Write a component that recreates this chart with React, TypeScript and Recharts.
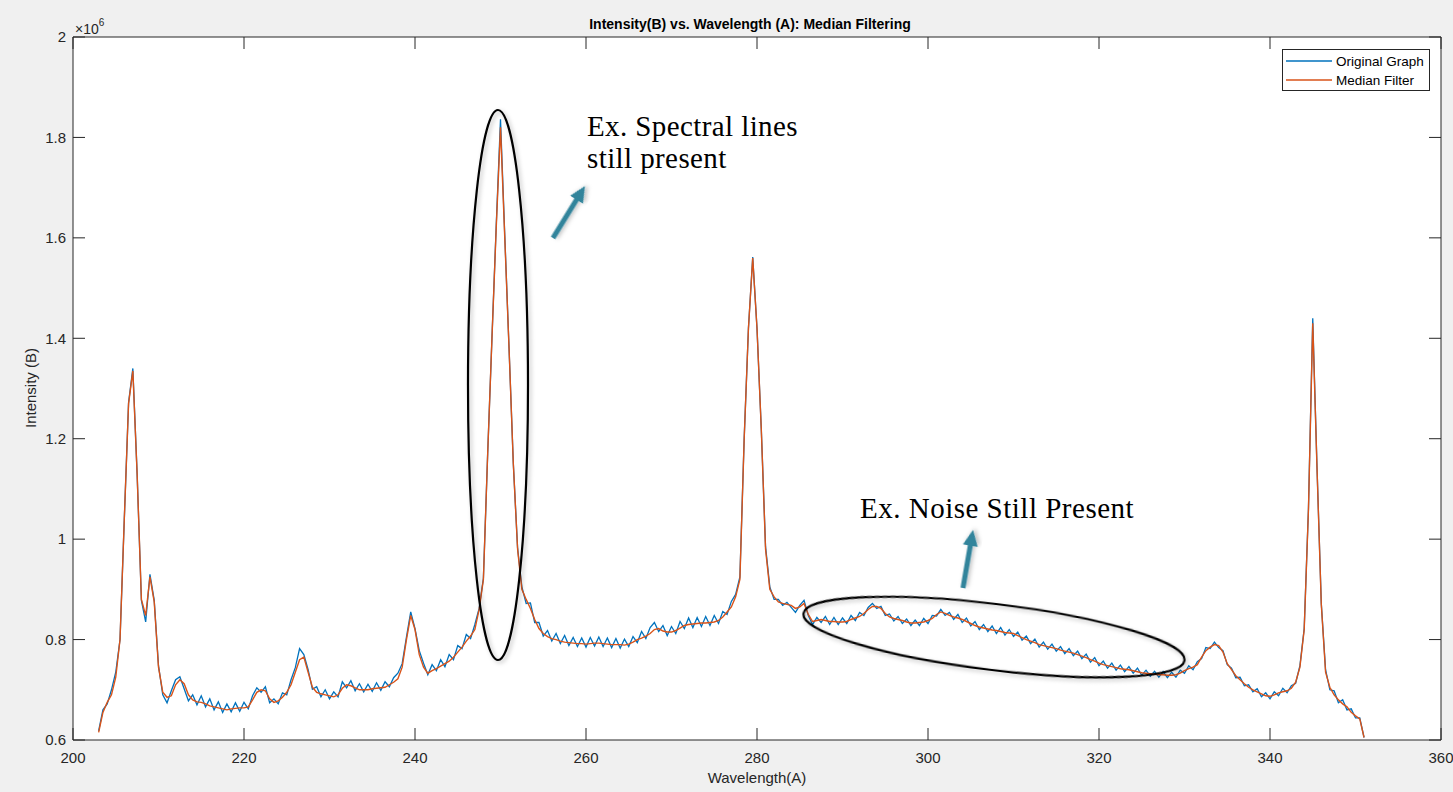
import React from 'react';
import { LineChart, Line, XAxis, YAxis, CartesianGrid } from 'recharts';

// Wavelength (A), sampled every 0.5
const wavelengths = [
  203, 203.5, 204, 204.5, 205, 205.5, 206, 206.5, 207, 207.5,
  208, 208.5, 209, 209.5, 210, 210.5, 211, 211.5, 212, 212.5,
  213, 213.5, 214, 214.5, 215, 215.5, 216, 216.5, 217, 217.5,
  218, 218.5, 219, 219.5, 220, 220.5, 221, 221.5, 222, 222.5,
  223, 223.5, 224, 224.5, 225, 225.5, 226, 226.5, 227, 227.5,
  228, 228.5, 229, 229.5, 230, 230.5, 231, 231.5, 232, 232.5,
  233, 233.5, 234, 234.5, 235, 235.5, 236, 236.5, 237, 237.5,
  238, 238.5, 239, 239.5, 240, 240.5, 241, 241.5, 242, 242.5,
  243, 243.5, 244, 244.5, 245, 245.5, 246, 246.5, 247, 247.5,
  248, 248.5, 249, 249.5, 250, 250.5, 251, 251.5, 252, 252.5,
  253, 253.5, 254, 254.5, 255, 255.5, 256, 256.5, 257, 257.5,
  258, 258.5, 259, 259.5, 260, 260.5, 261, 261.5, 262, 262.5,
  263, 263.5, 264, 264.5, 265, 265.5, 266, 266.5, 267, 267.5,
  268, 268.5, 269, 269.5, 270, 270.5, 271, 271.5, 272, 272.5,
  273, 273.5, 274, 274.5, 275, 275.5, 276, 276.5, 277, 277.5,
  278, 278.5, 279, 279.5, 280, 280.5, 281, 281.5, 282, 282.5,
  283, 283.5, 284, 284.5, 285, 285.5, 286, 286.5, 287, 287.5,
  288, 288.5, 289, 289.5, 290, 290.5, 291, 291.5, 292, 292.5,
  293, 293.5, 294, 294.5, 295, 295.5, 296, 296.5, 297, 297.5,
  298, 298.5, 299, 299.5, 300, 300.5, 301, 301.5, 302, 302.5,
  303, 303.5, 304, 304.5, 305, 305.5, 306, 306.5, 307, 307.5,
  308, 308.5, 309, 309.5, 310, 310.5, 311, 311.5, 312, 312.5,
  313, 313.5, 314, 314.5, 315, 315.5, 316, 316.5, 317, 317.5,
  318, 318.5, 319, 319.5, 320, 320.5, 321, 321.5, 322, 322.5,
  323, 323.5, 324, 324.5, 325, 325.5, 326, 326.5, 327, 327.5,
  328, 328.5, 329, 329.5, 330, 330.5, 331, 331.5, 332, 332.5,
  333, 333.5, 334, 334.5, 335, 335.5, 336, 336.5, 337, 337.5,
  338, 338.5, 339, 339.5, 340, 340.5, 341, 341.5, 342, 342.5,
  343, 343.5, 344, 344.5, 345, 345.5, 346, 346.5, 347, 347.5,
  348, 348.5, 349, 349.5, 350, 350.5, 351,
];

// Intensity (B), in units of 10^6
const originalGraph = [
  0.618, 0.660, 0.672, 0.700, 0.735, 0.800, 1.040, 1.272, 1.340, 1.130,
  0.878, 0.835, 0.930, 0.878, 0.748, 0.690, 0.674, 0.698, 0.720, 0.726,
  0.702, 0.678, 0.690, 0.670, 0.688, 0.666, 0.682, 0.660, 0.676, 0.655,
  0.672, 0.656, 0.674, 0.657, 0.675, 0.662, 0.688, 0.704, 0.695, 0.706,
  0.674, 0.682, 0.672, 0.694, 0.690, 0.720, 0.744, 0.782, 0.770, 0.740,
  0.701, 0.706, 0.686, 0.700, 0.682, 0.696, 0.686, 0.716, 0.704, 0.718,
  0.698, 0.712, 0.696, 0.711, 0.697, 0.714, 0.699, 0.716, 0.706, 0.724,
  0.733, 0.752, 0.805, 0.855, 0.822, 0.778, 0.753, 0.730, 0.750, 0.738,
  0.760, 0.746, 0.770, 0.760, 0.788, 0.782, 0.810, 0.802, 0.830, 0.862,
  0.922, 1.170, 1.400, 1.625, 1.836, 1.605, 1.380, 1.150, 0.982, 0.905,
  0.872, 0.873, 0.834, 0.834, 0.807, 0.818, 0.797, 0.812, 0.792, 0.808,
  0.788, 0.804, 0.786, 0.803, 0.785, 0.804, 0.787, 0.805, 0.786, 0.803,
  0.784, 0.802, 0.783, 0.801, 0.786, 0.806, 0.794, 0.816, 0.802, 0.824,
  0.834, 0.816, 0.828, 0.808, 0.826, 0.812, 0.836, 0.822, 0.843, 0.824,
  0.844, 0.826, 0.846, 0.828, 0.848, 0.832, 0.856, 0.850, 0.876, 0.890,
  0.925, 1.200, 1.420, 1.562, 1.420, 1.220, 0.985, 0.905, 0.880, 0.880,
  0.868, 0.874, 0.864, 0.854, 0.868, 0.878, 0.848, 0.830, 0.844, 0.834,
  0.846, 0.830, 0.844, 0.830, 0.843, 0.832, 0.848, 0.838, 0.854, 0.848,
  0.864, 0.872, 0.862, 0.866, 0.848, 0.851, 0.837, 0.846, 0.832, 0.841,
  0.828, 0.839, 0.828, 0.842, 0.832, 0.848, 0.847, 0.860, 0.848, 0.854,
  0.840, 0.850, 0.834, 0.843, 0.827, 0.836, 0.820, 0.830, 0.816, 0.827,
  0.812, 0.824, 0.809, 0.820, 0.806, 0.815, 0.799, 0.807, 0.792, 0.801,
  0.785, 0.795, 0.781, 0.791, 0.777, 0.786, 0.772, 0.782, 0.768, 0.777,
  0.762, 0.771, 0.755, 0.764, 0.748, 0.757, 0.743, 0.753, 0.739, 0.749,
  0.736, 0.746, 0.733, 0.743, 0.729, 0.739, 0.727, 0.737, 0.725, 0.736,
  0.724, 0.735, 0.725, 0.739, 0.733, 0.748, 0.740, 0.756, 0.762, 0.784,
  0.782, 0.795, 0.784, 0.778, 0.750, 0.743, 0.724, 0.725, 0.708, 0.710,
  0.696, 0.702, 0.686, 0.694, 0.682, 0.696, 0.688, 0.703, 0.694, 0.708,
  0.713, 0.748, 0.822, 1.062, 1.440, 1.142, 0.872, 0.740, 0.700, 0.698,
  0.674, 0.680, 0.660, 0.662, 0.644, 0.644, 0.605,
];

const medianFilter = [
  0.615, 0.655, 0.675, 0.690, 0.725, 0.800, 1.040, 1.270, 1.335, 1.130,
  0.880, 0.848, 0.925, 0.875, 0.745, 0.695, 0.685, 0.688, 0.710, 0.720,
  0.712, 0.690, 0.680, 0.676, 0.675, 0.672, 0.668, 0.666, 0.664, 0.662,
  0.660, 0.662, 0.663, 0.664, 0.664, 0.666, 0.680, 0.695, 0.700, 0.698,
  0.682, 0.675, 0.678, 0.685, 0.695, 0.710, 0.735, 0.760, 0.765, 0.735,
  0.705, 0.695, 0.692, 0.690, 0.688, 0.686, 0.690, 0.703, 0.710, 0.708,
  0.704, 0.700, 0.700, 0.700, 0.702, 0.703, 0.704, 0.705, 0.710, 0.715,
  0.722, 0.745, 0.800, 0.848, 0.820, 0.770, 0.745, 0.733, 0.738, 0.742,
  0.747, 0.752, 0.757, 0.765, 0.775, 0.785, 0.797, 0.807, 0.820, 0.860,
  0.920, 1.170, 1.400, 1.620, 1.820, 1.600, 1.380, 1.150, 0.980, 0.900,
  0.880, 0.862, 0.840, 0.822, 0.812, 0.806, 0.802, 0.800, 0.797, 0.795,
  0.794, 0.793, 0.792, 0.792, 0.791, 0.792, 0.793, 0.793, 0.792, 0.791,
  0.790, 0.790, 0.790, 0.789, 0.791, 0.795, 0.800, 0.803, 0.807, 0.812,
  0.820, 0.822, 0.817, 0.815, 0.815, 0.818, 0.823, 0.828, 0.830, 0.831,
  0.832, 0.833, 0.833, 0.834, 0.835, 0.838, 0.845, 0.855, 0.865, 0.885,
  0.920, 1.200, 1.420, 1.560, 1.420, 1.220, 0.980, 0.900, 0.885, 0.875,
  0.872, 0.870, 0.868, 0.862, 0.865, 0.872, 0.850, 0.836, 0.838, 0.840,
  0.838, 0.836, 0.836, 0.835, 0.835, 0.836, 0.840, 0.843, 0.846, 0.852,
  0.860, 0.866, 0.866, 0.862, 0.852, 0.845, 0.842, 0.840, 0.838, 0.835,
  0.833, 0.833, 0.834, 0.835, 0.838, 0.842, 0.850, 0.855, 0.852, 0.848,
  0.845, 0.843, 0.840, 0.836, 0.832, 0.828, 0.825, 0.823, 0.821, 0.819,
  0.818, 0.816, 0.814, 0.813, 0.812, 0.808, 0.804, 0.800, 0.797, 0.794,
  0.790, 0.788, 0.786, 0.784, 0.782, 0.779, 0.777, 0.775, 0.773, 0.770,
  0.767, 0.764, 0.760, 0.757, 0.753, 0.750, 0.748, 0.746, 0.744, 0.742,
  0.741, 0.740, 0.738, 0.736, 0.734, 0.733, 0.732, 0.731, 0.730, 0.730,
  0.729, 0.729, 0.730, 0.733, 0.738, 0.742, 0.745, 0.750, 0.765, 0.778,
  0.785, 0.790, 0.788, 0.775, 0.752, 0.740, 0.728, 0.720, 0.712, 0.705,
  0.700, 0.696, 0.692, 0.688, 0.687, 0.690, 0.694, 0.696, 0.698, 0.703,
  0.715, 0.745, 0.820, 1.060, 1.430, 1.140, 0.870, 0.735, 0.705, 0.690,
  0.680, 0.672, 0.666, 0.655, 0.648, 0.642, 0.605,
];

const xTicks = [200, 220, 240, 260, 280, 300, 320, 340, 360];
const yTicks = [0.6, 0.8, 1, 1.2, 1.4, 1.6, 1.8, 2];
const seriesNames = ['Original Graph', 'Median Filter'];
const seriesColors = ['#0072BD', '#D95319'];
const chartTitle = 'Intensity(B) vs. Wavelength (A): Median Filtering';
const xLabel = 'Wavelength(A)';
const yLabel = 'Intensity (B)';
const noteSpectral = ['Ex. Spectral lines', 'still present'];
const noteNoise = 'Ex. Noise Still Present';

const data = wavelengths.map((w, i) => ({
  wavelength: w,
  original: originalGraph[i],
  median: medianFilter[i],
}));

const SANS = '"Liberation Sans", Arial, Helvetica, sans-serif';
const SERIF = '"Liberation Serif", "Times New Roman", serif';
const AX = '#262626';
const ARROW = '#31849b';

export default function App() {
  return (
    <div
      style={{
        position: 'fixed',
        left: 0,
        top: 0,
        width: 1453,
        height: 792,
        background: '#f0f0f0',
        overflow: 'hidden',
      }}
    >
      <LineChart
        width={1453}
        height={792}
        data={data}
        margin={{ top: 36, right: 11, bottom: 22, left: 13 }}
      >
        <CartesianGrid xAxisId="b" yAxisId="l" fill="#ffffff" horizontal={false} vertical={false} />
        <XAxis
          xAxisId="b"
          type="number"
          dataKey="wavelength"
          domain={[200, 360]}
          ticks={xTicks}
          interval={0}
          allowDataOverflow
          orientation="bottom"
          height={30}
          tickSize={-12}
          tickMargin={24}
          stroke={AX}
          tick={{ fill: AX, fontSize: 15, fontFamily: SANS }}
        />
        <XAxis
          xAxisId="t"
          type="number"
          dataKey="wavelength"
          domain={[200, 360]}
          ticks={xTicks}
          interval={0}
          allowDataOverflow
          orientation="top"
          height={1}
          tickSize={-12}
          tickFormatter={() => ''}
          stroke={AX}
        />
        <YAxis
          yAxisId="l"
          type="number"
          domain={[0.6, 2]}
          ticks={yTicks}
          interval={0}
          allowDataOverflow
          orientation="left"
          width={60}
          tickSize={-12}
          tickMargin={19}
          stroke={AX}
          tick={{ fill: AX, fontSize: 15, fontFamily: SANS }}
        />
        <YAxis
          yAxisId="r"
          type="number"
          domain={[0.6, 2]}
          ticks={yTicks}
          interval={0}
          allowDataOverflow
          orientation="right"
          width={1}
          tickSize={-12}
          tickFormatter={() => ''}
          stroke={AX}
        />
        <Line
          xAxisId="b"
          yAxisId="l"
          type="linear"
          dataKey="original"
          name={seriesNames[0]}
          stroke={seriesColors[0]}
          strokeWidth={1.3}
          dot={false}
          isAnimationActive={false}
        />
        <Line
          xAxisId="b"
          yAxisId="l"
          type="linear"
          dataKey="median"
          name={seriesNames[1]}
          stroke={seriesColors[1]}
          strokeWidth={1.4}
          dot={false}
          isAnimationActive={false}
        />
      </LineChart>

      <svg
        width={1453}
        height={792}
        style={{ position: 'absolute', left: 0, top: 0, pointerEvents: 'none' }}
      >
        <defs>
          <filter id="shadow" x="-20%" y="-20%" width="140%" height="140%">
            <feDropShadow dx="2" dy="2" stdDeviation="2" floodColor="#000" floodOpacity="0.25" />
          </filter>
        </defs>
        <text x={750} y={29} textAnchor="middle" fontFamily={SANS} fontWeight="bold" fontSize={14} fill="#000">
          {chartTitle}
        </text>
        <text x={75} y={34} fontFamily={SANS} fontSize={14} fill={AX}>
          ×10
          <tspan dy={-8} fontSize={10}>6</tspan>
        </text>
        <text x={757} y={783} textAnchor="middle" fontFamily={SANS} fontSize={15} fill={AX}>
          {xLabel}
        </text>
        <text
          x={0}
          y={0}
          transform="translate(36 388) rotate(-90)"
          textAnchor="middle"
          fontFamily={SANS}
          fontSize={15}
          fill={AX}
        >
          {yLabel}
        </text>

        {/* annotations */}
        <ellipse cx={498} cy={385} rx={30} ry={275} fill="none" stroke="#000" strokeWidth={2.2} filter="url(#shadow)" />
        <ellipse
          cx={994}
          cy={637}
          rx={192}
          ry={33}
          transform="rotate(7 994 637)"
          fill="none"
          stroke="#000"
          strokeWidth={2.2}
          filter="url(#shadow)"
        />
        <path
          d="M0,-2.6 L45,-2.6 L45,-7.5 L61,0 L45,7.5 L45,2.6 L0,2.6 Z"
          transform="translate(553 238) rotate(-58.4)"
          fill={ARROW}
          filter="url(#shadow)"
        />
        <path
          d="M0,-2.6 L43,-2.6 L43,-7.5 L59,0 L43,7.5 L43,2.6 L0,2.6 Z"
          transform="translate(963 588) rotate(-80.2)"
          fill={ARROW}
          filter="url(#shadow)"
        />
        <text x={587} y={136} fontFamily={SERIF} fontSize={29} letterSpacing={0.4} fill="#000">
          {noteSpectral[0]}
        </text>
        <text x={587} y={168} fontFamily={SERIF} fontSize={29} letterSpacing={0.4} fill="#000">
          {noteSpectral[1]}
        </text>
        <text x={860} y={518} fontFamily={SERIF} fontSize={29} letterSpacing={0.5} fill="#000">
          {noteNoise}
        </text>

        {/* legend */}
        <rect x={1282.5} y={49.5} width={147} height={41} fill="#fff" stroke={AX} strokeWidth={1} />
        {seriesNames.map((n, i) => (
          <g key={n}>
            <line x1={1286} x2={1332} y1={61 + i * 19} y2={61 + i * 19} stroke={seriesColors[i]} strokeWidth={1.5} />
            <text x={1336} y={66 + i * 19} fontFamily={SANS} fontSize={13.5} fill="#000">
              {n}
            </text>
          </g>
        ))}
      </svg>
    </div>
  );
}
